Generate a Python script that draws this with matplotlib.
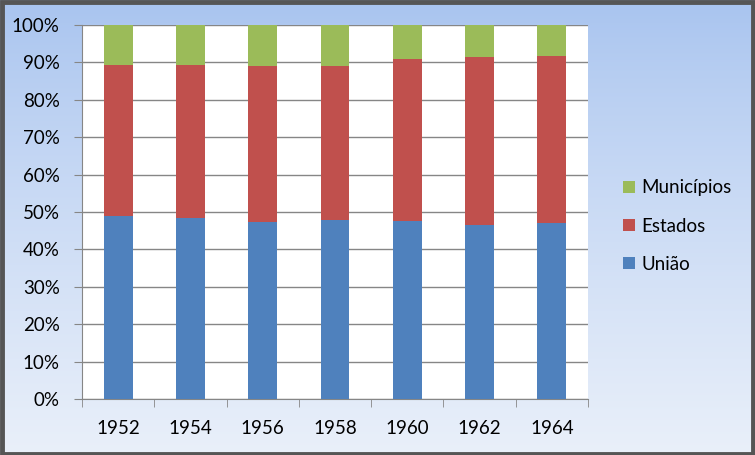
import matplotlib
matplotlib.use('Agg')
import matplotlib.pyplot as plt
import numpy as np
from matplotlib.patches import Rectangle

plt.rcParams['font.family'] = ['Lato', 'DejaVu Sans']

# Data (percent shares)
years = ['1952', '1954', '1956', '1958', '1960', '1962', '1964']
uniao = [48.9, 48.4, 47.4, 47.9, 47.7, 46.6, 47.1]
estados = [40.4, 40.9, 41.7, 41.2, 43.3, 44.9, 44.6]
municipios = [10.7, 10.7, 10.9, 10.9, 9.0, 8.5, 8.3]

fig = plt.figure(figsize=(7.55, 4.55), dpi=100)

# gradient background of the chart area
bg = fig.add_axes([0, 0, 1, 1], zorder=-10)
grad = np.linspace(0, 1, 256).reshape(-1, 1)
top = np.array([0.655, 0.765, 0.937])
bot = np.array([0.915, 0.940, 0.980])
img = top + (bot - top) * grad[:, :, None] ** 0.8
bg.imshow(img, aspect='auto', extent=[0, 1, 0, 1])
bg.set_axis_off()
bg.add_patch(Rectangle((0.002, 0.003), 0.995, 0.993, transform=bg.transAxes,
                       fill=False, edgecolor='#555555', linewidth=3.5))

ax = fig.add_axes([82 / 755, 1 - 399 / 455, (588 - 82) / 755, (399 - 25) / 455])
ax.set_facecolor('white')
x = np.arange(len(years))
w = 0.4
ax.bar(x, uniao, w, color='#4F81BD', label='União', zorder=3)
ax.bar(x, estados, w, bottom=uniao, color='#C0504D', label='Estados', zorder=3)
bottom2 = [a + b for a, b in zip(uniao, estados)]
ax.bar(x, municipios, w, bottom=bottom2, color='#9BBB59', label='Municípios', zorder=3)

fs = 13.5
ax.set_xlim(-0.5, len(years) - 0.5)
ax.set_ylim(0, 100)
ax.set_yticks(range(0, 101, 10))
ax.set_yticklabels([f'{v}%' for v in range(0, 101, 10)], fontsize=fs)
ax.yaxis.grid(True, color='#868686', linewidth=1, zorder=0)
ax.set_xticks(x)
ax.set_xticklabels(years, fontsize=fs)
ax.set_xticks(np.arange(-0.5, len(years), 1), minor=True)
ax.tick_params(axis='x', which='major', length=0, pad=15)
ax.tick_params(axis='x', which='minor', length=6, color='#868686', direction='out')
ax.tick_params(axis='y', length=6, color='#868686', direction='out', pad=10)
for s in ['top', 'right']:
    ax.spines[s].set_visible(False)
for s in ['left', 'bottom']:
    ax.spines[s].set_color('#868686')

handles, labels = ax.get_legend_handles_labels()
fig.legend(handles[::-1], labels[::-1], loc='center left',
           bbox_to_anchor=(606 / 755, 1 - 226 / 455), frameon=False,
           fontsize=fs, handlelength=0.65, handleheight=0.65,
           handletextpad=0.35, labelspacing=1.12)

fig.savefig('out.png', dpi=100)
